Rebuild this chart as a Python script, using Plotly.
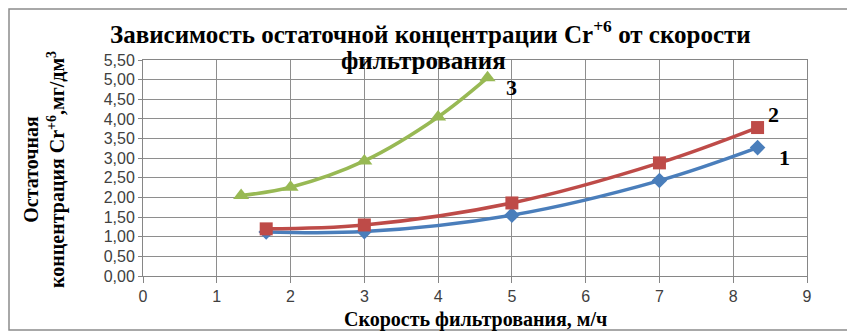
import plotly.graph_objects as go

x12 = [1.67, 3, 5, 7, 8.33]
s1 = [1.12, 1.13, 1.55, 2.43, 3.27]
s2 = [1.20, 1.30, 1.86, 2.88, 3.78]
x3 = [1.33, 2, 3, 4, 4.67]
s3 = [2.05, 2.26, 2.93, 4.05, 5.05]

yticks = [i * 0.5 for i in range(12)]
ytext = [f"{v:.2f}".replace(".", ",") for v in yticks]

# page body has an 8px default margin; compensate so the picture matches
OFF = 8
W, H = 855 - OFF, 332 - OFF
ML, MR, MT, MB = 143 - OFF, 48, 60 - OFF, 56
PW, PH = W - ML - MR, H - MT - MB


def px(xp):
    return (xp - OFF - ML) / PW


def py(yp):
    return (H - MB - (yp - OFF)) / PH


serif = "Liberation Serif, Times New Roman, serif"
sans = "Liberation Sans, Arial, sans-serif"

fig = go.Figure()
fig.add_trace(go.Scatter(x=x12, y=s1, mode="lines+markers", line=dict(color="#4A7EBB", width=3.5, shape="spline"),
                         marker=dict(symbol="diamond", size=12, color="#4A7EBB")))
fig.add_trace(go.Scatter(x=x12, y=s2, mode="lines+markers", line=dict(color="#BE4B48", width=3.5, shape="spline"),
                         marker=dict(symbol="square", size=13, color="#BE4B48")))
fig.add_trace(go.Scatter(x=x3, y=s3, mode="lines+markers", line=dict(color="#98B954", width=3.5, shape="spline"),
                         marker=dict(symbol="triangle-up", size=14, color="#98B954")))

for t, xx, yy in [("3", 4.99, 4.79), ("2", 8.54, 4.12), ("1", 8.70, 3.03)]:
    fig.add_annotation(x=xx, y=yy, text=f"<b>{t}</b>", showarrow=False, font=dict(family=serif, size=22, color="black"))

fig.add_annotation(xref="paper", yref="paper", x=px(430), y=py(32), xanchor="center", yanchor="middle",
                   text="<b>Зависимость остаточной концентрации Cr<sup>+6</sup> от скорости</b>",
                   showarrow=False, font=dict(family=serif, size=25, color="black"))
fig.add_annotation(xref="paper", yref="paper", x=px(423), y=py(60), xanchor="center", yanchor="middle",
                   text="<b>фильтрования</b>",
                   showarrow=False, font=dict(family=serif, size=25, color="black"))
fig.add_annotation(xref="paper", yref="paper", x=px(475), y=py(319), xanchor="center", yanchor="middle",
                   text="<b>Скорость фильтрования, м/ч</b>",
                   showarrow=False, font=dict(family=serif, size=20, color="black"))
fig.add_annotation(xref="paper", yref="paper", x=px(44), y=py(170), xanchor="center", yanchor="middle",
                   text="<b>Остаточная<br>концентрация Cr<sup>+6</sup>,мг/дм<sup>3</sup></b>", textangle=-90,
                   showarrow=False, font=dict(family=serif, size=20, color="black"))

fig.add_shape(type="rect", xref="paper", yref="paper",
              x0=px(OFF + 1), x1=px(852), y0=py(330), y1=py(OFF + 1),
              line=dict(color="#8C8C8C", width=1.5))

fig.update_layout(
    width=W, height=H, margin=dict(l=ML, r=MR, t=MT, b=MB),
    paper_bgcolor="white", plot_bgcolor="white", showlegend=False,
    xaxis=dict(range=[0, 9], dtick=1, tick0=0, showgrid=True, gridcolor="#8E8E8E", gridwidth=1,
               showline=True, linecolor="#868686", ticks="outside", ticklen=6, tickcolor="#868686",
               tickfont=dict(family=sans, size=16, color="#404040"), zeroline=False),
    yaxis=dict(range=[0, 5.5], tickvals=yticks, ticktext=ytext, showgrid=True, gridcolor="#8E8E8E", gridwidth=1,
               showline=True, linecolor="#868686", ticks="outside", ticklen=4, tickcolor="#868686",
               tickfont=dict(family=sans, size=16, color="#404040"), zeroline=False),
)
fig.update_xaxes(mirror=True)
fig.update_yaxes(mirror=True)

fig.write_html("out.html")
